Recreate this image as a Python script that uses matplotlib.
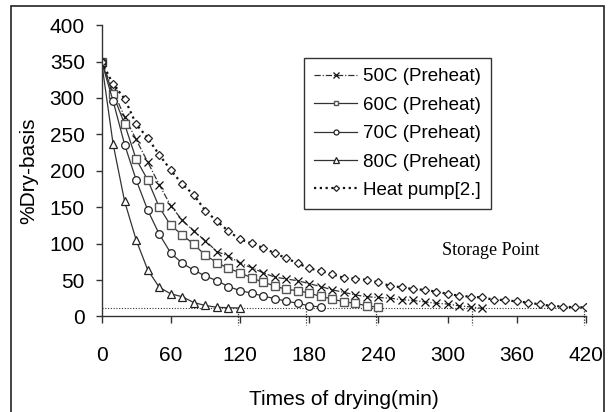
import matplotlib
matplotlib.use("Agg")
import matplotlib.pyplot as plt
from matplotlib.patches import Rectangle

# drying time (min) and moisture content (% dry basis)
t_50 = [0, 10, 20, 30, 40, 50, 60, 70, 80, 90, 100, 110, 120, 130, 140, 150, 160,
        170, 180, 190, 200, 210, 220, 230, 240, 250, 260, 270, 280, 290, 300, 310, 320, 330]
m_50 = [350, 310, 274, 243, 212, 181, 152, 132, 117, 104, 89, 83, 73, 67, 60, 54, 51.5,
        49, 45, 41, 36.5, 33, 29.5, 27, 26, 25, 23, 22, 20, 18, 17, 14.5, 13, 11]

t_60 = [0, 10, 20, 30, 40, 50, 60, 70, 80, 90, 100, 110, 120, 130, 140, 150, 160,
        170, 180, 190, 200, 210, 220, 230, 240]
m_60 = [350, 305, 264, 216, 187.5, 150, 125, 112, 99, 84, 74, 66, 60, 53, 47, 42, 37,
        35.5, 32, 27.5, 24, 20, 18, 14.5, 12.5]

t_70 = [0, 10, 20, 30, 40, 50, 60, 70, 80, 90, 100, 110, 120, 130, 140, 150, 160,
        170, 180, 190]
m_70 = [350, 296, 236, 187.5, 146, 113, 87, 73, 63.5, 55.5, 49, 41, 35.5, 32, 28, 24.5,
        21, 18, 14.5, 13]

t_80 = [0, 10, 20, 30, 40, 50, 60, 70, 80, 90, 100, 110, 120]
m_80 = [350, 237, 158, 105, 64, 40, 31, 27, 19, 15, 12.5, 12, 11.5]

t_hp = [0, 10, 20, 30, 40, 50, 60, 70, 80, 90, 100, 110, 120, 130, 140, 150, 160, 170,
        180, 190, 200, 210, 220, 230, 240, 250, 260, 270, 280, 290, 300, 310, 320, 330,
        340, 350, 360, 370, 380, 390, 400, 410, 420]
m_hp = [350, 319, 299, 264, 245, 222, 201, 181.5, 167, 145, 131, 117, 106, 100.5, 94, 87,
        80, 73, 66, 62.5, 58, 53, 52, 50, 47, 42, 40, 37.5, 36.5, 34, 31, 28.5, 27, 26, 23,
        22.5, 20.5, 19, 16.5, 14.5, 13.5, 12.5, 12.5]

# storage point (moisture level and the time each curve reaches it)
storage_level = 11
storage_times = [118, 177, 238, 321, 418]

plt.rcParams['font.family'] = ['Liberation Sans', 'DejaVu Sans']

fig = plt.figure(figsize=(6.08, 4.12), dpi=100)
ax = fig.add_axes([0.167, 0.232, 0.797, 0.707])

line_c = '#333333'
ms = 6
ax.plot(t_50, m_50, color=line_c, lw=0.9, ls=(0, (5, 1.5, 1, 1.5)), marker='x', ms=ms,
        mec='#111111', mew=0.9, label='50C (Preheat)')
ax.plot(t_60, m_60, color=line_c, lw=0.9, marker='s', ms=ms - 0.5, mfc='white',
        mec='#555555', mew=1.0, label='60C (Preheat)')
ax.plot(t_70, m_70, color=line_c, lw=0.9, marker='o', ms=ms - 0.5, mfc='white',
        mec='#222222', mew=0.9, label='70C (Preheat)')
ax.plot(t_80, m_80, color=line_c, lw=0.9, marker='^', ms=ms, mfc='white',
        mec='#222222', mew=0.9, label='80C (Preheat)')
ax.plot(t_hp, m_hp, color='#111111', lw=1.6, ls=(0, (1, 1.6)), marker='D', ms=ms - 1.5,
        mfc='white', mec='#222222', mew=0.9, label='Heat pump[2.]')

# storage point reference lines
ax.axhline(storage_level, color='#333333', lw=0.8, ls=(0, (1, 1.5)), zorder=1)
for t in storage_times:
    ax.plot([t, t], [storage_level, -12], color='#333333', lw=0.9, ls=(0, (1, 1.2)),
            clip_on=False, zorder=1)

ax.text(295, 91, 'Storage Point', family='Liberation Serif', fontsize=13,
        va='center', ha='left')

ax.set_xlim(0, 420)
ax.set_ylim(0, 400)
ax.set_xticks([0, 60, 120, 180, 240, 300, 360, 420])
ax.set_yticks(range(0, 401, 50))
for s in ['top', 'right']:
    ax.spines[s].set_visible(False)
for s in ['left', 'bottom']:
    ax.spines[s].set_color('#333333')
    ax.spines[s].set_linewidth(1.0)
ax.tick_params(axis='x', direction='out', length=5, width=1, pad=16, labelsize=15,
               color='#333333')
ax.tick_params(axis='y', direction='out', length=4, width=1, pad=8, labelsize=15,
               color='#333333')

ax.set_xlabel('Times of drying(min)', fontsize=15, labelpad=18)
ax.set_ylabel('%Dry-basis', fontsize=15, labelpad=8)

leg = ax.legend(loc='upper left', bbox_to_anchor=(304 / 608, 1 - 58 / 412),
                bbox_transform=fig.transFigure, borderaxespad=0, fontsize=13.5,
                frameon=True, fancybox=False, edgecolor='#333333', framealpha=1,
                handlelength=2.3, handletextpad=0.3, labelspacing=0.6, markerscale=0.65,
                borderpad=0.55)
leg.get_frame().set_linewidth(1.0)

# outer border of the figure
fig.patches.append(Rectangle((11 / 608, -0.05), (604 - 11) / 608, 1.05 - 6 / 412,
                             transform=fig.transFigure, fill=False,
                             edgecolor='#222222', lw=1.2))

fig.savefig('out.png', dpi=100)
